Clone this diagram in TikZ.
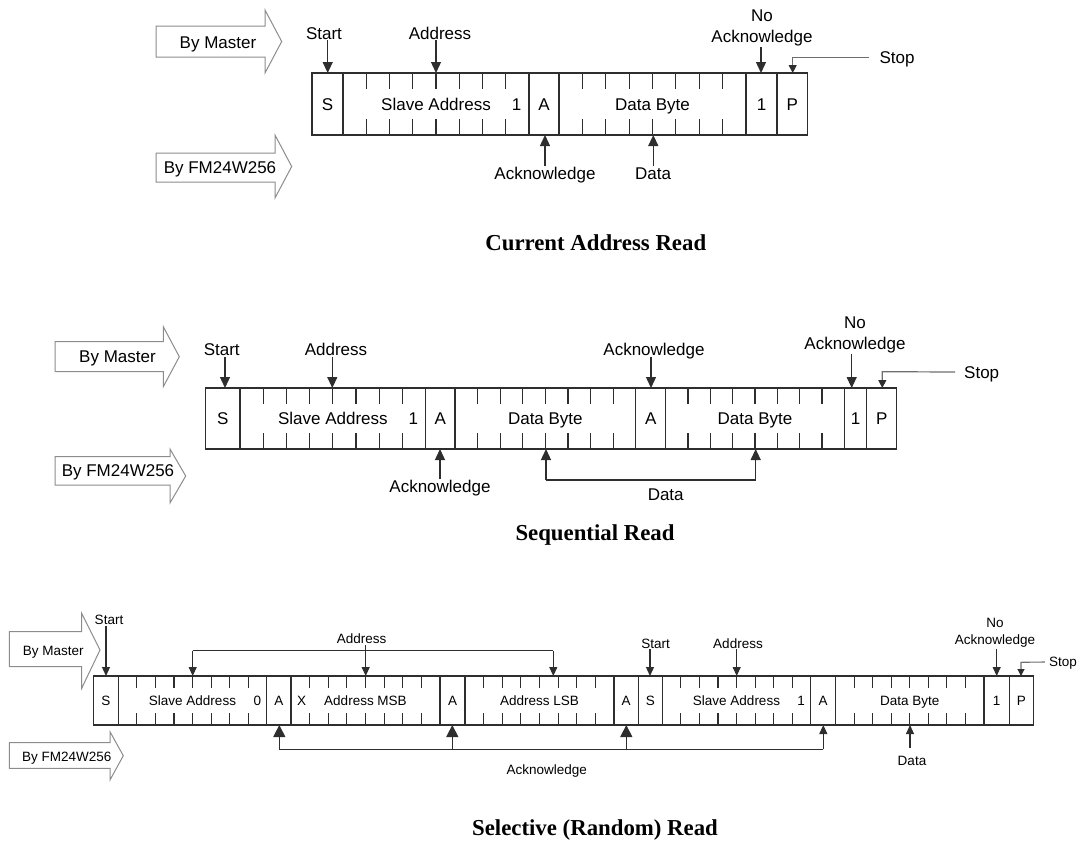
\documentclass[tikz,border=0pt]{standalone}
\usepackage{fontspec}
\setmainfont{Liberation Sans}
\newfontfamily\titlefont{Liberation Serif}
\usetikzlibrary{arrows.meta,calc}
\definecolor{linec}{HTML}{2E2E2E}
\definecolor{bigc}{HTML}{8C8C8C}
\definecolor{stopc}{HTML}{6E6E6E}

% name, x1, x2, ytop, ybot, text
\newcommand\mkcell[6]{%
  \node[cellbox, minimum width={(#3-#2)*1pt}, minimum height={(#5-#4)*1pt}] (#1) at ({(#2+#3)/2},{(#4+#5)/2}) {#6};}
% x1, x2, ytop, ybot, length
\newcommand\mkticks[5]{%
  \foreach \k in {1,...,7}{%
    \pgfmathsetmacro\tx{#1+\k*(#2-#1)/8}%
    \draw[tick] (\tx,#3) -- (\tx,#3+#5) (\tx,#4) -- (\tx,#4-#5);}}
% left, bodyright, tip, bodytop, bodybot, headtop, headbot, tipy
\newcommand\bigarrow[8]{%
  \draw[bigarr] (#1,#4) -- (#2,#4) -- (#2,#6) -- (#3,#8) -- (#2,#7) -- (#2,#5) -- (#1,#5) -- cycle;}

\tikzset{
  fnt/.style={font=\fontsize{17}{21}\selectfont},
  txt/.style={fnt, text height=12.2pt, text depth=0pt},
  cellbox/.style={draw=linec, line width=1.4pt, inner sep=0pt, outer sep=0pt, txt},
  lbl/.style={txt, inner sep=1pt},
  lbltwo/.style={fnt, inner sep=1pt, align=center},
  tick/.style={draw=linec, line width=1.2pt},
  arr/.style={draw=linec, line width=1.3pt, -{Triangle[length=11pt,width=10pt]}},
  bigack/.style={arr},
  stoparr/.style={draw=stopc, line width=1.2pt, -{Triangle[length=8pt,width=8pt,color=linec]}},
  plain/.style={draw=linec, line width=1.3pt},
  bigarr/.style={draw=bigc, line width=1pt},
  ttl/.style={font=\titlefont\bfseries\fontsize{22.8}{26}\selectfont, inner sep=0pt}
}

\begin{document}
\begin{tikzpicture}[x=1pt,y=-1pt]
\useasboundingbox (0,0) rectangle (1077,846);

% ================= Current Address Read =================
\bigarrow{156}{265}{281.7}{26}{57}{10}{73}{41.5}
\node[lbl] (m1) at (218,42) {By Master};
\bigarrow{156}{275}{291.7}{153}{182}{135}{198}{166.5}
\node[lbl] (f1) at (220,167) {By FM24W256};

\mkcell{c1S}{312}{343}{73}{135}{S}
\mkcell{c1SA}{343}{529}{73}{135}{Slave Address}
\mkcell{c1A}{529}{559}{73}{135}{A}
\mkcell{c1D}{559}{746}{73}{135}{Data Byte}
\mkcell{c1N}{746}{777}{73}{135}{1}
\mkcell{c1P}{777}{807.5}{73}{135}{P}
\mkticks{343}{529}{73}{135}{16}
\mkticks{559}{746}{73}{135}{16}
\node[lbl] (c1SAb) at (516.7,104) {1};

\node[lbl] (l1st) at (324,33) {Start};
\node[lbl] (l1ad) at (440,33) {Address};
\node[lbltwo] (l1na) at (762,28) {No\\Acknowledge};
\node[lbl] (l1sp) at (897,57.7) {Stop};
\node[lbl] (l1ak) at (545,173) {Acknowledge};
\node[lbl] (l1da) at (653,173) {Data};

\coordinate (t1st) at (327.7,73);
\coordinate (t1ad) at (436,73);
\coordinate (t1na) at (761,73);
\coordinate (t1sp) at (792.7,73);
\coordinate (k1sp) at (792.7,57.7);
\coordinate (t1ak) at (545,135);
\coordinate (t1da) at (653.3,135);

\draw[arr] (l1st.south -| t1st) -- (t1st);
\draw[arr] (l1ad.south -| t1ad) -- (t1ad);
\draw[arr] (l1na.south -| t1na) -- (t1na);
\draw[stoparr] ([xshift=-9pt]l1sp.west) -- (k1sp) -- (t1sp);
\draw[arr] (l1ak.north -| t1ak) -- (t1ak);
\draw[arr] (l1da.north -| t1da) -- (t1da);

\node[ttl] (t1) at (595.8,242.3) {Current Address Read};

% ================= Sequential Read =================
\bigarrow{55}{163.3}{179.3}{341.7}{371.7}{326.7}{386.7}{356.7}
\node[lbl] (m2) at (117.5,356) {By Master};
\bigarrow{55}{170}{185.7}{456.7}{485}{449}{503}{476}
\node[lbl] (f2) at (118,470) {By FM24W256};

\mkcell{c2S}{205.7}{240}{388}{449}{S}
\mkcell{c2SA}{240}{425.7}{388}{449}{Slave Address}
\mkcell{c2A1}{425.7}{455}{388}{449}{A}
\mkcell{c2D1}{455}{635.7}{388}{449}{Data Byte}
\mkcell{c2A2}{635.7}{665.7}{388}{449}{A}
\mkcell{c2D2}{665.7}{844.3}{388}{449}{Data Byte}
\mkcell{c2N}{844.3}{866.7}{388}{449}{1}
\mkcell{c2P}{866.7}{896.7}{388}{449}{P}
\mkticks{240}{425.7}{388}{449}{16}
\mkticks{455}{635.7}{388}{449}{16}
\mkticks{665.7}{844.3}{388}{449}{16}
\node[lbl] (c2SAb) at (413.3,418.5) {1};

\node[lbl] (l2st) at (221.7,349.3) {Start};
\node[lbl] (l2ad) at (336,349.3) {Address};
\node[lbl] (l2ak) at (654,349.3) {Acknowledge};
\node[lbltwo] (l2na) at (855,335) {No\\Acknowledge};
\node[lbl] (l2sp) at (981.7,372) {Stop};
\node[lbl] (l2ak2) at (440,486.7) {Acknowledge};
\node[lbl] (l2da) at (665.7,494.3) {Data};

\coordinate (t2st) at (225,388);
\coordinate (t2ad) at (332.3,388);
\coordinate (t2ak) at (651,388);
\coordinate (t2na) at (851.7,388);
\coordinate (t2sp) at (882.3,388);
\coordinate (k2sp) at (882.3,371.7);
\coordinate (t2ak2) at (440,449);
\coordinate (t2d1) at (546,449);
\coordinate (t2d2) at (755.7,449);
\coordinate (j2a) at (546,480);
\coordinate (j2b) at (755.7,480);

\draw[arr] (l2st.south -| t2st) -- (t2st);
\draw[arr] (l2ad.south -| t2ad) -- (t2ad);
\draw[arr] (l2ak.south -| t2ak) -- (t2ak);
\draw[arr] (l2na.south -| t2na) -- (t2na);
\draw[stoparr] ([xshift=-8pt]l2sp.west) -- (k2sp) -- (t2sp);
\draw[arr] (l2ak2.north -| t2ak2) -- (t2ak2);
\draw[plain] (j2a) -- (j2b);
\draw[arr] (j2a) -- (t2d1);
\draw[arr] (j2b) -- (t2d2);

\node[ttl] (t2) at (595,535) {Sequential Read};

% ================= Selective (Random) Read =================
\begin{scope}[fnt/.style={font=\fontsize{13.5}{16.7}\selectfont},
  txt/.style={fnt, text height=9.7pt, text depth=0pt},
  arr/.style={draw=linec, line width=1.1pt, -{Triangle[length=9pt,width=8pt]}},
  bigack/.style={draw=linec, line width=1.1pt, -{Triangle[length=12pt,width=12pt]}},
  plain/.style={draw=linec, line width=1.1pt},
  stoparr/.style={draw=stopc, line width=1.1pt, -{Triangle[length=7pt,width=7pt,color=linec]}},
  tick/.style={draw=linec, line width=1.1pt},
  cellbox/.append style={line width=1.3pt}]
\bigarrow{9.3}{81.7}{100}{631.7}{666.7}{613.3}{688.3}{650}
\node[lbl] (m3) at (53.3,651) {By Master};
\bigarrow{9.3}{110}{123.3}{742.7}{768.3}{731.7}{780}{755.7}
\node[lbl] (f3) at (66.7,757) {By FM24W256};

\mkcell{c3S}{93.3}{118.3}{676}{725}{S}
\mkcell{c3SA}{118.3}{266.7}{676}{725}{Slave Address}
\mkcell{c3A1}{266.7}{291}{676}{725}{A}
\mkcell{c3M}{291}{440}{676}{725}{Address MSB}
\mkcell{c3A2}{440}{465}{676}{725}{A}
\mkcell{c3L}{465}{614}{676}{725}{Address LSB}
\mkcell{c3A3}{614}{638.3}{676}{725}{A}
\mkcell{c3S2}{638.3}{662.3}{676}{725}{S}
\mkcell{c3SA2}{662.3}{810.7}{676}{725}{Slave Address}
\mkcell{c3A4}{810.7}{835.7}{676}{725}{A}
\mkcell{c3D}{835.7}{984}{676}{725}{Data Byte}
\mkcell{c3N}{984}{1009.3}{676}{725}{1}
\mkcell{c3P}{1009.3}{1033.3}{676}{725}{P}
\mkticks{118.3}{266.7}{676}{725}{12}
\mkticks{291}{440}{676}{725}{12}
\mkticks{465}{614}{676}{725}{12}
\mkticks{662.3}{810.7}{676}{725}{12}
\mkticks{835.7}{984}{676}{725}{12}
\node[lbl] (c3SAb) at (257.3,700.5) {0};
\node[lbl] (c3Mx) at (301.7,700.5) {X};
\node[lbl] (c3SA2b) at (801,700.5) {1};

\node[lbl] (l3st) at (109,620) {Start};
\node[lbl] (l3ad) at (361.7,639) {Address};
\node[lbl] (l3st2) at (655.7,643.3) {Start};
\node[lbl] (l3ad2) at (738,643.3) {Address};
\node[lbltwo] (l3na) at (995,633) {No\\Acknowledge};
\node[lbl] (l3sp) at (1063,662) {Stop};
\node[lbl] (l3ak) at (546.7,770) {Acknowledge};
\node[lbl] (l3da) at (912,761) {Data};

\coordinate (t3st) at (106,676);
\coordinate (t3a1) at (192.7,676);
\coordinate (t3am) at (365.7,676);
\coordinate (t3a2) at (553.3,676);
\coordinate (j3a) at (192.7,650.7);
\coordinate (j3b) at (553.3,650.7);
\coordinate (t3st2) at (650,676);
\coordinate (t3ad2) at (736.7,676);
\coordinate (t3na) at (996.7,676);
\coordinate (t3sp) at (1021,676);
\coordinate (k3sp) at (1021,662.3);
\coordinate (b3a) at (279.3,725);
\coordinate (b3b) at (452.3,725);
\coordinate (b3c) at (626.3,725);
\coordinate (b3d) at (823.3,725);
\coordinate (g3a) at (279.3,749.3);
\coordinate (g3b) at (452.3,749.3);
\coordinate (g3c) at (626.3,749.3);
\coordinate (g3d) at (823.3,749.3);
\coordinate (t3da) at (910,725);
\coordinate (k3da) at (910,748);

\draw[arr] (l3st.south -| t3st) -- (t3st);
\draw[plain] (j3a) -- (j3b);
\draw[arr] (j3a) -- (t3a1);
\draw[arr] (j3b) -- (t3a2);
\draw[arr] (l3ad.south -| t3am) -- (t3am);
\draw[arr] (l3st2.south -| t3st2) -- (t3st2);
\draw[arr] (l3ad2.south -| t3ad2) -- (t3ad2);
\draw[arr] (l3na.south -| t3na) -- (t3na);
\draw[stoparr] ([xshift=-3pt]l3sp.west) -- (k3sp) -- (t3sp);
\draw[plain] (g3a) -- (g3d);
\draw[bigack] (g3a) -- (b3a);
\draw[bigack] (g3b) -- (b3b);
\draw[bigack] (g3c) -- (b3c);
\draw[arr] (g3d) -- (b3d);
\draw[arr] (k3da) -- (t3da);
\end{scope}

\node[ttl] (t3) at (595,830) {Selective (Random) Read};
\end{tikzpicture}
\end{document}
